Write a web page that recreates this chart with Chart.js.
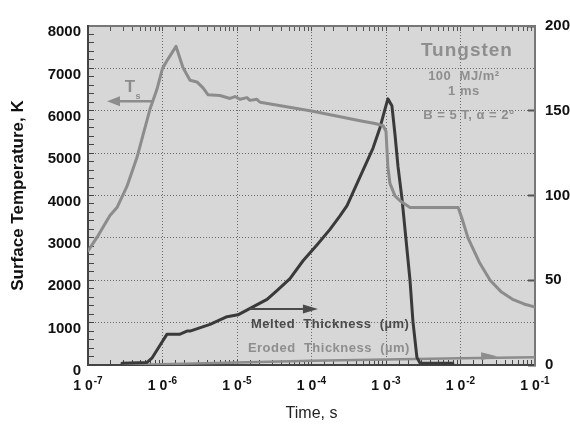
<!DOCTYPE html>
<html>
<head>
<meta charset="utf-8">
<script src="https://cdn.jsdelivr.net/npm/chart.js@4.4.1/dist/chart.umd.min.js"></script>
<style>
  html, body { margin: 0; padding: 0; background: #fff; }
</style>
</head>
<body>
<canvas id="c" width="570" height="424"></canvas>
<script>
const FONT = "'Liberation Sans', Arial, Helvetica, sans-serif";

// surface temperature (left axis, K) vs time (s)
const tempTime = [1.0e-7, 1.32e-7, 1.97e-7, 2.45e-7, 3.33e-7, 4.55e-7, 5.47e-7, 6.8e-7, 8.4e-7,
  1.0e-6, 1.19e-6, 1.52e-6, 1.88e-6, 2.34e-6, 2.9e-6, 3.5e-6, 4.07e-6, 5.9e-6, 8.05e-6, 9.4e-6,
  1.1e-5, 1.36e-5, 1.49e-5, 1.85e-5, 2.04e-5, 1.0e-4, 4.48e-4, 7.1e-4, 9.1e-4, 1.0e-3, 1.06e-3,
  1.13e-3, 1.32e-3, 1.54e-3, 2.1e-3, 9.3e-3, 1.05e-2, 1.26e-2, 1.82e-2, 2.5e-2, 3.55e-2, 5.0e-2,
  7.1e-2, 1.0e-1];
const tempK = [2690, 3010, 3530, 3715, 4215, 4900, 5425, 6040, 6500,
  7000, 7225, 7520, 7020, 6720, 6680, 6540, 6380, 6360, 6290, 6335,
  6270, 6310, 6245, 6270, 6200, 5995, 5766, 5700, 5650, 5516, 4672,
  4285, 3990, 3875, 3715, 3715, 3450, 3000, 2400, 2000, 1720, 1550,
  1440, 1370];

// melted thickness (right axis, um)
const meltTime = [2.86e-7, 6.2e-7, 7.2e-7, 8.7e-7, 1.15e-6, 1.72e-6, 2.13e-6, 2.34e-6, 4.35e-6,
  7.35e-6, 1.03e-5, 1.59e-5, 2.53e-5, 3.44e-5, 5.14e-5, 7.7e-5, 1.19e-4, 1.77e-4, 2.41e-4, 3.0e-4,
  4.48e-4, 6.7e-4, 8.3e-4, 9.7e-4, 1.06e-3, 1.2e-3, 1.32e-3, 1.45e-3, 1.64e-3, 2.1e-3, 2.3e-3,
  2.6e-3, 2.86e-3, 7.9e-3];
const meltUm = [1.1, 1.5, 4, 9.7, 18.2, 18.2, 20, 20, 24,
  28.5, 29.6, 34, 38.7, 43.9, 51, 61.5, 71, 80, 88, 94,
  111, 128, 140, 151, 157, 153, 136, 117, 98, 50, 25.6,
  4.5, 1.1, 1.1];

// eroded thickness (right axis, um)
const erodeTime = [3.0e-7, 1.0e-6, 1.0e-5, 1.0e-4, 1.0e-3, 1.0e-2, 1.0e-1];
const erodeUm = [0, 0.5, 1.5, 2.5, 3.2, 4.0, 4.6];

// axis labels
const decadeExp = [-7, -6, -5, -4, -3, -2, -1];
const tempTickStep = 1000;
const thickTickStep = 50;

function pts(xs, ys) { return xs.map((x, i) => ({ x: x, y: ys[i] })); }
function isDecade(v) {
  if (!v) return false;
  const l = Math.log10(v);
  return Math.abs(l - Math.round(l)) < 1e-6;
}

const plotBg = {
  id: 'plotBg',
  beforeDraw(chart) {
    const { ctx, chartArea: a } = chart;
    ctx.save();
    ctx.fillStyle = '#d7d7d7';
    ctx.fillRect(a.left, a.top, a.right - a.left, a.bottom - a.top);
    ctx.restore();
  }
};

// "1 0^n" labels under the log axis
const decadeLabels = {
  id: 'decadeLabels',
  afterDraw(chart) {
    const ctx = chart.ctx, sx = chart.scales.x;
    ctx.save();
    ctx.fillStyle = '#111';
    ctx.textAlign = 'left';
    ctx.textBaseline = 'alphabetic';
    decadeExp.forEach(e => {
      const px = sx.getPixelForValue(Math.pow(10, e));
      ctx.font = 'bold 14px ' + FONT;
      const bw = ctx.measureText('1 0').width;
      ctx.font = 'bold 10px ' + FONT;
      const sup = String(e);
      const sw = ctx.measureText(sup).width;
      const x0 = px - (bw + sw + 1) / 2;
      ctx.font = 'bold 14px ' + FONT;
      ctx.fillText('1 0', x0, sx.top + 25);
      ctx.font = 'bold 10px ' + FONT;
      ctx.fillText(sup, x0 + bw + 1, sx.top + 19);
    });
    ctx.restore();
  }
};

function arrow(ctx, x1, y, x2, color, w, head, half) {
  const dir = Math.sign(x2 - x1);
  ctx.strokeStyle = color;
  ctx.fillStyle = color;
  ctx.lineWidth = w;
  ctx.beginPath();
  ctx.moveTo(x1, y);
  ctx.lineTo(x2 - dir * head, y);
  ctx.stroke();
  ctx.beginPath();
  ctx.moveTo(x2, y);
  ctx.lineTo(x2 - dir * head, y - half);
  ctx.lineTo(x2 - dir * head, y + half);
  ctx.closePath();
  ctx.fill();
}

const notes = {
  id: 'notes',
  afterDatasetsDraw(chart) {
    const ctx = chart.ctx;
    const sx = chart.scales.x, sy = chart.scales.y, s2 = chart.scales.y2;
    const X = t => sx.getPixelForValue(t);
    ctx.save();
    ctx.textBaseline = 'middle';

    // Ts arrow
    arrow(ctx, X(7.4e-7), sy.getPixelForValue(6222), X(1.8e-7), '#8c8c8c', 2.5, 13, 5);
    ctx.fillStyle = '#8c8c8c';
    ctx.textAlign = 'center';
    ctx.font = 'bold 17px ' + FONT;
    ctx.fillText('T', X(3.66e-7), sy.getPixelForValue(6564));
    ctx.font = 'bold 9px ' + FONT;
    ctx.fillText('s', X(4.7e-7), sy.getPixelForValue(6340));

    // melted thickness arrow + label
    arrow(ctx, X(1.49e-5), s2.getPixelForValue(33), X(1.22e-4), '#4a4a4a', 2, 15, 4.5);
    ctx.textAlign = 'left';
    ctx.font = 'bold 13px ' + FONT;
    if ('letterSpacing' in ctx) ctx.letterSpacing = '0.5px';
    ctx.fillStyle = '#4a4a4a';
    ctx.fillText('Melted  Thickness  (\u00b5m)', X(1.54e-5), s2.getPixelForValue(23.9));
    ctx.fillStyle = '#8e8e8e';
    ctx.fillText('Eroded  Thickness  (\u00b5m)', X(1.4e-5), s2.getPixelForValue(9.7));

    // eroded arrow head
    const ey = s2.getPixelForValue(5.1);
    const ex = X(3.1e-2);
    ctx.beginPath();
    ctx.moveTo(ex, ey);
    ctx.lineTo(ex - 16, ey - 4);
    ctx.lineTo(ex - 16, ey + 4);
    ctx.closePath();
    ctx.fill();

    // case labels
    ctx.textAlign = 'center';
    ctx.fillStyle = '#8e8e8e';
    if ('letterSpacing' in ctx) ctx.letterSpacing = '1px';
    ctx.font = 'bold 19px ' + FONT;
    ctx.fillText('Tungsten', X(1.22e-2), sy.getPixelForValue(7407));
    if ('letterSpacing' in ctx) ctx.letterSpacing = '0.5px';
    ctx.font = 'bold 13px ' + FONT;
    ctx.fillText('100  MJ/m\u00b2', X(1.11e-2), sy.getPixelForValue(6815));
    ctx.fillText('1 ms', X(1.11e-2), sy.getPixelForValue(6450));
    ctx.fillText('B = 5 T, \u03b1 = 2\u00b0', X(1.3e-2), sy.getPixelForValue(5880));
    ctx.restore();
  }
};

new Chart(document.getElementById('c'), {
  type: 'line',
  data: {
    datasets: [
      {
        label: 'Ts',
        data: pts(tempTime, tempK),
        yAxisID: 'y',
        borderColor: '#8c8c8c',
        borderWidth: 3
      },
      {
        label: 'Melted Thickness',
        data: pts(meltTime, meltUm),
        yAxisID: 'y2',
        borderColor: '#3a3a3a',
        borderWidth: 3
      },
      {
        label: 'Eroded Thickness',
        data: pts(erodeTime, erodeUm),
        yAxisID: 'y2',
        borderColor: '#8c8c8c',
        borderWidth: 2.5
      }
    ]
  },
  options: {
    responsive: false,
    animation: false,
    events: [],
    layout: { padding: 0 },
    elements: {
      point: { radius: 0 },
      line: { tension: 0, borderJoinStyle: 'round', borderCapStyle: 'round' }
    },
    plugins: {
      legend: { display: false },
      tooltip: { enabled: false }
    },
    scales: {
      x: {
        type: 'logarithmic',
        position: 'bottom',
        min: 1e-7,
        max: 1e-1,
        afterFit(s) { s.height = 59; },
        ticks: { display: false, autoSkip: false },
        grid: {
          color: c => (c.tick && isDecade(c.tick.value) && c.tick.value > 1.5e-7 && c.tick.value < 0.09) ? '#6a6a6a' : 'rgba(0,0,0,0)',
          tickLength: -5,
          tickColor: '#444',
          tickWidth: 1
        },
        border: { color: '#444', width: 2, dash: [1, 2] },
        title: {
          display: true,
          text: 'Time, s',
          color: '#222',
          font: { family: FONT, size: 16 },
          padding: { top: 0, bottom: 1 }
        }
      },
      xTop: {
        type: 'logarithmic',
        position: 'top',
        min: 1e-7,
        max: 1e-1,
        afterFit(s) { s.height = 14; },
        ticks: { display: false, autoSkip: false },
        grid: { drawOnChartArea: false, tickLength: -5, tickColor: '#555', tickWidth: 1 },
        border: { color: '#777', width: 2 }
      },
      y: {
        type: 'linear',
        position: 'left',
        min: 0,
        max: 8000,
        afterFit(s) { s.width = 88; },
        ticks: {
          stepSize: 200,
          autoSkip: false,
          padding: 13,
          color: '#111',
          font: { family: FONT, size: 15, weight: 'bold', lineHeight: 0.8 },
          callback: v => (v % tempTickStep === 0 ? ['', String(v)] : '')
        },
        grid: {
          color: c => (c.tick && c.tick.value % tempTickStep === 0 && c.tick.value > 0 && c.tick.value < 8000) ? '#6a6a6a' : 'rgba(0,0,0,0)',
          tickLength: -6,
          tickColor: '#444',
          tickWidth: 1
        },
        border: { color: '#444', width: 2, dash: [1, 2] },
        title: {
          display: true,
          text: 'Surface Temperature, K',
          color: '#111',
          font: { family: FONT, size: 17, weight: 'bold' },
          padding: { top: 8, bottom: 0 }
        }
      },
      y2: {
        type: 'linear',
        position: 'right',
        min: 0,
        max: 200,
        afterFit(s) { s.width = 35; },
        ticks: {
          stepSize: thickTickStep,
          padding: 17,
          color: '#111',
          font: { family: FONT, size: 15, weight: 'bold' }
        },
        grid: { drawOnChartArea: false, tickLength: -7, tickColor: '#555', tickWidth: 2 },
        border: { color: '#777', width: 2 }
      }
    }
  },
  plugins: [plotBg, decadeLabels, notes]
});
</script>
</body>
</html>
